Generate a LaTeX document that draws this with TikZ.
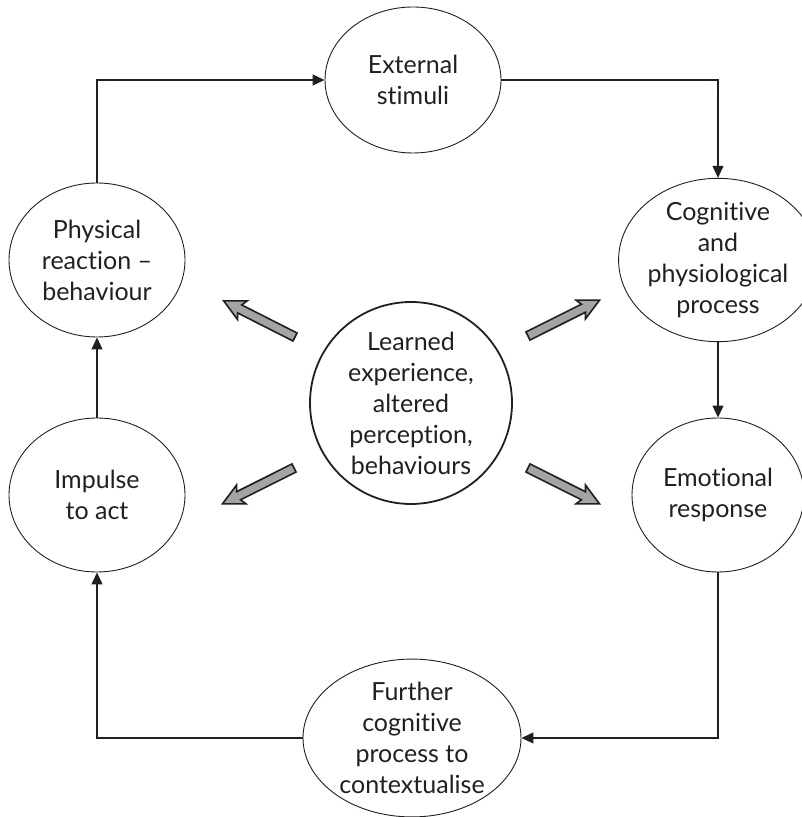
\documentclass[tikz,border=0pt]{standalone}
\usepackage{fontspec}
\setmainfont[Ligatures=NoCommon]{Lato}
\usetikzlibrary{arrows.meta,shapes.geometric}

\definecolor{inkgray}{HTML}{231F20}
\definecolor{arrowgray}{HTML}{A3A4A8}

\tikzset{
  x=1pt, y=1pt,
  stage/.style={ellipse, draw=inkgray, line width=0.9pt, inner sep=0pt,
    align=center, text=inkgray,
    font=\fontsize{25}{31}\selectfont},
  hub/.style={circle, draw=inkgray, line width=1.8pt, inner sep=0pt,
    minimum size=202pt, align=center, text=inkgray,
    font=\fontsize{25}{31}\selectfont},
  conn/.style={draw=inkgray, line width=1.1pt,
    -{Triangle[length=12pt,width=11pt]}},
  blockarrow/.pic={
    \draw[fill=arrowgray, draw=inkgray, line width=1.6pt, line join=miter]
      (0,-4.5) -- (62,-4.5) -- (59,-10.5) -- (80,0) -- (59,10.5)
      -- (62,4.5) -- (0,4.5) -- cycle;
  }
}

\begin{document}
\begin{tikzpicture}
  \useasboundingbox (0,0) rectangle (801,817);

  % the six stages of the cycle
  \node[stage, minimum width=176pt, minimum height=146pt] (ext) at (413,737)
    {External\\stimuli};
  \node[stage, minimum width=172pt, minimum height=154pt] (cog) at (718,557)
    {Cognitive\\and\\physiological\\process};
  \node[stage, minimum width=172pt, minimum height=154pt] (emo) at (718,322)
    {Emotional\\response};
  \node[stage, minimum width=218pt, minimum height=154pt] (fur) at (412,79)
    {Further\\cognitive\\process to\\contextualise};
  \node[stage, minimum width=176pt, minimum height=154pt] (imp) at (97,322)
    {Impulse\\to act};
  \node[stage, minimum width=176pt, minimum height=154pt] (phy) at (97,557)
    {Physical\\reaction --\\behaviour};

  % centre of the cycle
  \node[hub] (learn) at (411,414)
    {Learned\\experience,\\altered\\perception,\\behaviours};

  % cycle connectors
  \draw[conn] (phy.north) |- (ext.west);
  \draw[conn] (ext.east) -| (cog.north);
  \draw[conn] (cog.south) -- (emo.north);
  \draw[conn] (emo.south) |- (fur.east);
  \draw[conn] (fur.west) -| (imp.south);
  \draw[conn] (imp.north) -- (phy.south);

  % grey arrows radiating from the centre
  \coordinate (ul) at (295,480);
  \coordinate (ur) at (528,481);
  \coordinate (ll) at (294,349);
  \coordinate (lr) at (528,349);
  \pic[rotate=153.1] at (ul) {blockarrow};
  \pic[rotate=26.6]  at (ur) {blockarrow};
  \pic[rotate=206.6] at (ll) {blockarrow};
  \pic[rotate=-26.6] at (lr) {blockarrow};
\end{tikzpicture}
\end{document}
